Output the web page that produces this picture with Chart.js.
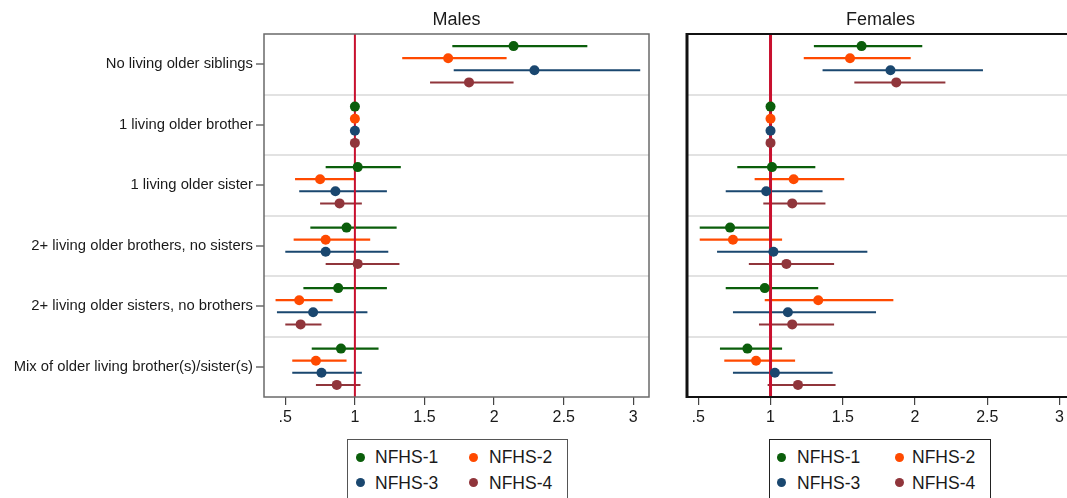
<!DOCTYPE html>
<html>
<head>
<meta charset="utf-8">
<script src="https://cdn.jsdelivr.net/npm/chart.js@4/dist/chart.umd.min.js"></script>
<style>
  html, body { margin:0; padding:0; background:#fff; overflow:hidden; width:1067px; height:498px; }
  #wrap { position:relative; width:1067px; height:498px; overflow:hidden; font-family:"Liberation Sans", Arial, sans-serif; }
  canvas { position:absolute; top:0; }
  .legend { position:absolute; top:439px; height:80px; border:1.5px solid #555; box-sizing:border-box; background:#fff; }
  .item { position:absolute; font-size:17.5px; color:#1a1a1a; line-height:20px; white-space:nowrap; }
  .dot { position:absolute; width:9px; height:9px; border-radius:50%; }
</style>
</head>
<body>
<div id="wrap">
  <canvas id="males" width="660" height="430" style="left:0px"></canvas>
  <canvas id="females" width="430" height="430" style="left:660px"></canvas>
  <div class="legend" id="legM" style="left:347px;width:221px"></div>
  <div class="legend" id="legF" style="left:769px;width:222px;border-color:#222"></div>
</div>
<script>
// ---------- DATA ----------
const categories = [
  "No living older siblings",
  "1 living older brother",
  "1 living older sister",
  "2+ living older brothers, no sisters",
  "2+ living older sisters, no brothers",
  "Mix of older living brother(s)/sister(s)"
];
const seriesNames = ["NFHS-1", "NFHS-2", "NFHS-3", "NFHS-4"];
const seriesColors = ["#0b5e0b", "#ff4a00", "#1a476f", "#90353b"];
const xTickValues = [0.5, 1, 1.5, 2, 2.5, 3];
const xTickLabels = [".5", "1", "1.5", "2", "2.5", "3"];

// Males: point estimates, lower and upper CI (one row per survey)
const maleEst = [
  [2.14, 1, 1.02, 0.94, 0.88, 0.90],
  [1.67, 1, 0.75, 0.79, 0.60, 0.72],
  [2.29, 1, 0.86, 0.79, 0.70, 0.76],
  [1.82, 1, 0.89, 1.02, 0.61, 0.87]
];
const maleLo = [
  [1.70, null, 0.79, 0.68, 0.63, 0.69],
  [1.34, null, 0.57, 0.56, 0.43, 0.55],
  [1.71, null, 0.60, 0.50, 0.44, 0.55],
  [1.54, null, 0.75, 0.79, 0.50, 0.72]
];
const maleHi = [
  [2.67, null, 1.33, 1.30, 1.23, 1.17],
  [2.09, null, 1.00, 1.11, 0.84, 0.94],
  [3.05, null, 1.23, 1.24, 1.09, 1.05],
  [2.14, null, 1.05, 1.32, 0.76, 1.04]
];
// Females
const femaleEst = [
  [1.63, 1, 1.01, 0.72, 0.96, 0.84],
  [1.55, 1, 1.16, 0.74, 1.33, 0.90],
  [1.83, 1, 0.97, 1.02, 1.12, 1.03],
  [1.87, 1, 1.15, 1.11, 1.15, 1.19]
];
const femaleLo = [
  [1.30, null, 0.77, 0.51, 0.69, 0.65],
  [1.23, null, 0.89, 0.51, 0.96, 0.68],
  [1.36, null, 0.69, 0.63, 0.74, 0.74],
  [1.58, null, 0.95, 0.85, 0.92, 0.98]
];
const femaleHi = [
  [2.05, null, 1.31, 1.00, 1.33, 1.08],
  [1.97, null, 1.51, 1.08, 1.85, 1.17],
  [2.47, null, 1.36, 1.67, 1.73, 1.43],
  [2.21, null, 1.38, 1.44, 1.44, 1.45]
];
const refValue = 1;
// ---------- END DATA ----------

const FONT = "'Liberation Sans', Arial, sans-serif";
const offsets = [-0.3, -0.1, 0.1, 0.3];
const ciWidths = [2.3, 2.3, 2, 2];

function buildDatasets(est, lo, hi, refWidth) {
  const ds = [];
  seriesNames.forEach((name, s) => {
    ds.push({
      label: name, type: 'scatter', order: 0,
      data: categories.map((c, i) => ({ x: est[s][i], y: i + offsets[s] })),
      pointRadius: 5, pointHoverRadius: 5, backgroundColor: seriesColors[s], borderWidth: 0
    });
  });
  ds.push({
    label: 'ref', type: 'scatter', order: 1, showLine: true,
    data: [{ x: refValue, y: -0.5 }, { x: refValue, y: categories.length - 0.5 }],
    borderColor: '#c8102e', borderWidth: refWidth, pointRadius: 0
  });
  seriesNames.forEach((name, s) => {
    const pts = [];
    categories.forEach((c, i) => {
      if (lo[s][i] == null) return;
      const y = i + offsets[s];
      pts.push({ x: lo[s][i], y }, { x: hi[s][i], y }, { x: NaN, y: NaN });
    });
    ds.push({
      label: name + ' CI', type: 'scatter', order: 2, showLine: true, spanGaps: false,
      data: pts, borderColor: seriesColors[s], borderWidth: ciWidths[s], pointRadius: 0
    });
  });
  return ds;
}

const framePlugin = {
  id: 'frame',
  afterDatasetsDraw(chart, args, opts) {
    const { ctx, chartArea: a } = chart;
    ctx.save();
    ctx.strokeStyle = opts.color;
    ctx.lineWidth = opts.width;
    ctx.strokeRect(a.left, a.top, a.right - a.left, a.bottom - a.top);
    if (opts.leftWidth) {
      ctx.lineWidth = opts.leftWidth;
      ctx.beginPath(); ctx.moveTo(a.left, a.top - 1); ctx.lineTo(a.left, a.bottom + 1); ctx.stroke();
    }
    ctx.fillStyle = '#1a1a1a';
    ctx.font = "18px " + FONT;
    ctx.textAlign = 'center';
    ctx.textBaseline = 'middle';
    ctx.fillText(opts.title, (a.left + a.right) / 2, 20);
    ctx.restore();
  }
};

function makeChart(id, est, lo, hi, cfg) {
  const isHalf = v => Math.abs(v - Math.round(v)) > 0.01;
  return new Chart(document.getElementById(id), {
    type: 'scatter',
    data: { datasets: buildDatasets(est, lo, hi, cfg.refWidth) },
    plugins: [framePlugin],
    options: {
      responsive: false, animation: false, devicePixelRatio: 1,
      layout: { padding: { top: 34, right: cfg.padRight, left: 0, bottom: 0 } },
      plugins: {
        legend: { display: false }, tooltip: { enabled: false },
        frame: { color: cfg.frameColor, width: cfg.frameWidth, leftWidth: cfg.leftWidth, title: cfg.title }
      },
      scales: {
        x: {
          type: 'linear', min: cfg.xmin, max: cfg.xmax,
          afterBuildTicks: sc => { sc.ticks = xTickValues.map(v => ({ value: v })); },
          afterFit: sc => { sc.height = 33; },
          border: { display: false },
          grid: { drawOnChartArea: false, drawTicks: true, tickLength: 8, tickColor: '#444', lineWidth: 1.2 },
          ticks: {
            autoSkip: false, maxRotation: 0, padding: 3, color: '#1a1a1a',
            font: { family: FONT, size: 16 },
            callback: v => { const k = xTickValues.indexOf(v); return k >= 0 ? xTickLabels[k] : ''; }
          }
        },
        y: {
          type: 'linear', reverse: true, min: -0.5, max: categories.length - 0.5,
          afterBuildTicks: sc => {
            const t = []; for (let v = -0.5; v <= categories.length - 0.5 + 1e-9; v += 0.5) t.push({ value: v }); sc.ticks = t;
          },
          afterFit: sc => { sc.width = cfg.yWidth; },
          border: { display: false },
          grid: {
            drawTicks: cfg.showLabels, tickLength: 8, lineWidth: 2,
            color: c => (c.tick && isHalf(c.tick.value) && c.tick.value > -0.5 && c.tick.value < categories.length - 0.5) ? '#e2e2e2' : 'rgba(0,0,0,0)',
            tickColor: c => (c.tick && !isHalf(c.tick.value)) ? '#444' : 'rgba(0,0,0,0)',
            tickWidth: 1.2
          },
          ticks: {
            display: cfg.showLabels, autoSkip: false, padding: 3, color: '#1a1a1a',
            font: { family: FONT, size: 14.8 },
            callback: v => isHalf(v) ? '' : (categories[Math.round(v)] || '')
          }
        }
      }
    }
  });
}

makeChart('males', maleEst, maleLo, maleHi, {
  title: 'Males', xmin: 0.347, xmax: 3.113, padRight: 11, yWidth: 264,
  showLabels: true, frameColor: '#6a6a6a', frameWidth: 1.5, leftWidth: 0, refWidth: 2
});
makeChart('females', femaleEst, femaleLo, femaleHi, {
  title: 'Females', xmin: 0.422, xmax: 3.10, padRight: 16, yWidth: 27,
  showLabels: false, frameColor: '#111', frameWidth: 2, leftWidth: 3, refWidth: 3
});

function buildLegend(id, dotX, textX) {
  const el = document.getElementById(id);
  seriesNames.forEach((name, s) => {
    const col = s % 2, row = Math.floor(s / 2);
    const cy = 17 + row * 25.5;
    const d = document.createElement('div');
    d.className = 'dot';
    d.style.background = seriesColors[s];
    d.style.left = (dotX[col] - 4.5) + 'px';
    d.style.top = (cy - 4.5) + 'px';
    el.appendChild(d);
    const t = document.createElement('div');
    t.className = 'item';
    t.textContent = name;
    t.style.left = textX[col] + 'px';
    t.style.top = (cy - 10) + 'px';
    el.appendChild(t);
  });
}
buildLegend('legM', [12, 125], [27, 141]);
buildLegend('legF', [11, 129], [27, 142]);
</script>
</body>
</html>
